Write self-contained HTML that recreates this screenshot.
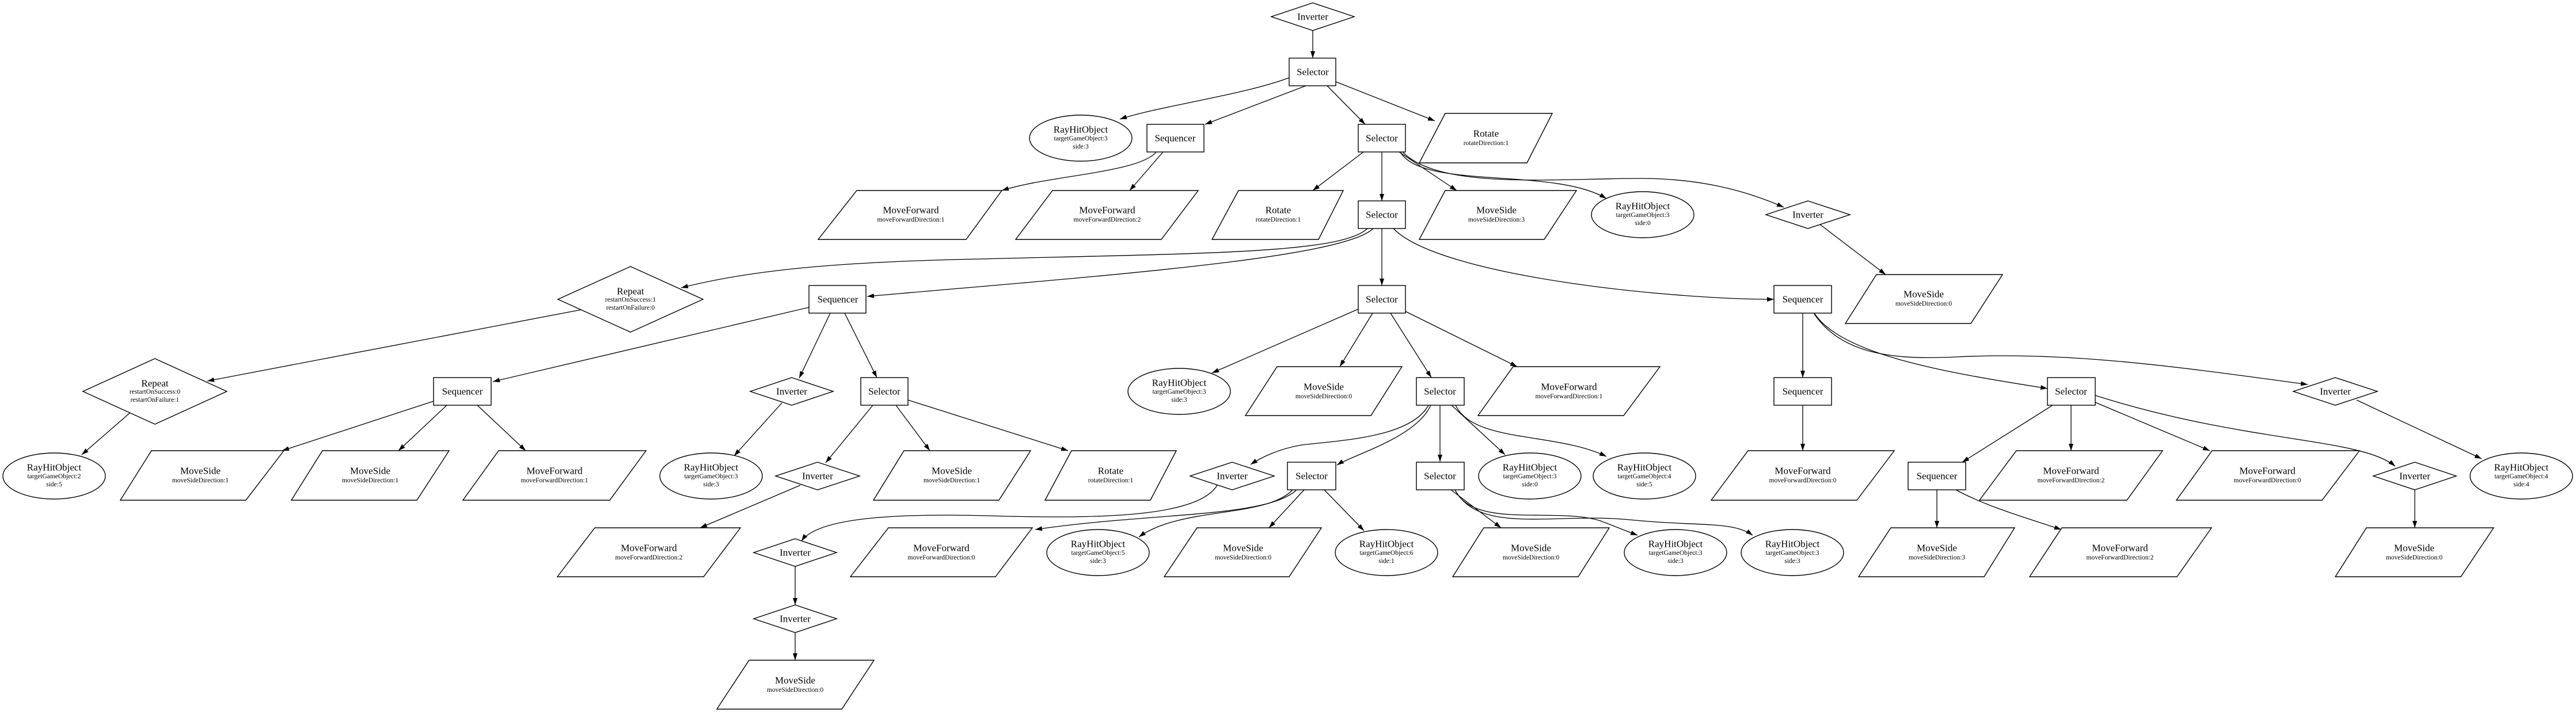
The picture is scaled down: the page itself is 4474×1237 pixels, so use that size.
<!DOCTYPE html>
<html><head><meta charset="utf-8"><style>
html,body{margin:0;padding:0;background:#fff;}
svg{display:block}
text{font-family:"Liberation Serif","DejaVu Serif",serif;fill:#000;text-anchor:middle;dominant-baseline:central}
.m{font-size:17px}
.s{font-size:11.5px}
.n{fill:#fff;stroke:#000;stroke-width:1.4}
.e{fill:none;stroke:#000;stroke-width:1.3}
</style></head><body>
<svg width="4474" height="1237" viewBox="0 0 4474 1237" xmlns="http://www.w3.org/2000/svg">
<defs><marker id="a" viewBox="0 0 12 8" refX="12" refY="4" markerWidth="12" markerHeight="8" markerUnits="userSpaceOnUse" orient="auto"><path d="M0,0 L12,4 L0,8 z" fill="#000"/></marker></defs>
<rect width="4474" height="1237" fill="#fff"/>
<g class="e" marker-end="url(#a)">
<path d="M2280,53 L2280,101"/>
<path d="M2239,135 C2160,165 2010,185 1945,207"/>
<path d="M2268,149 L2093,216"/>
<path d="M2305,149 L2371,216"/>
<path d="M2320,142 L2492,210"/>
<path d="M2008,264 C1980,300 1820,305 1740,331"/>
<path d="M2020,264 L1962,331"/>
<path d="M2368,264 L2280,331"/>
<path d="M2400,264 L2400,349"/>
<path d="M2430,264 L2530,331"/>
<path d="M2432,264 C2470,330 2700,290 2790,345"/>
<path d="M2436,264 C2500,330 2700,310 2850,310 C2950,310 3030,330 3098,360"/>
<path d="M3161,390 L3275,477"/>
<path d="M2375,397 C2330,440 2100,440 1700,450 C1450,455 1300,470 1183,500"/>
<path d="M2385,397 C2330,450 1900,480 1506,515"/>
<path d="M2400,397 L2400,496"/>
<path d="M2420,397 C2500,480 2900,520 3081,520"/>
<path d="M1010,538 L360,662"/>
<path d="M1405,534 L856,663"/>
<path d="M1442,544 L1388,657"/>
<path d="M1467,544 L1523,656"/>
<path d="M226,717 L142,790"/>
<path d="M753,697 L490,783"/>
<path d="M776,704 L692,783"/>
<path d="M829,704 L913,783"/>
<path d="M1358,700 L1275,792"/>
<path d="M1516,704 L1434,804"/>
<path d="M1556,704 L1615,783"/>
<path d="M1577,695 L1855,783"/>
<path d="M1390,843 L1216,917"/>
<path d="M2359,537 L2105,648"/>
<path d="M2384,544 L2327,637"/>
<path d="M2415,544 L2486,656"/>
<path d="M2441,541 L2635,637"/>
<path d="M2481,704 C2450,760 2330,765 2261,773 C2220,780 2190,795 2172,807"/>
<path d="M2485,704 C2460,760 2350,790 2322,808"/>
<path d="M2501,704 L2501,802"/>
<path d="M2521,704 L2614,790"/>
<path d="M2528,704 C2560,770 2700,750 2790,793"/>
<path d="M2114,843 C2080,900 1900,900 1750,897 C1550,890 1420,900 1392,940"/>
<path d="M2252,851 C2200,900 2000,890 1798,920"/>
<path d="M2245,851 C2200,900 2050,880 1978,933"/>
<path d="M2265,851 L2204,917"/>
<path d="M2300,851 L2369,922"/>
<path d="M2520,851 L2607,917"/>
<path d="M2527,851 C2560,920 2700,880 2780,905 L2844,930"/>
<path d="M2527,851 C2570,930 2700,890 2830,903 C2950,915 3010,905 3044,930"/>
<path d="M1381,984 L1381,1051"/>
<path d="M1381,1099 L1381,1147"/>
<path d="M3131,544 L3131,656"/>
<path d="M3151,544 C3200,620 3400,650 3556,675"/>
<path d="M3150,544 C3200,620 3300,625 3400,620 C3600,610 3800,640 4008,668"/>
<path d="M3131,704 L3131,783"/>
<path d="M3565,704 L3408,803"/>
<path d="M3597,704 L3597,783"/>
<path d="M3639,699 L3838,783"/>
<path d="M3639,687 C3900,770 4100,760 4160,810"/>
<path d="M4093,695 L4310,797"/>
<path d="M3364,851 L3364,917"/>
<path d="M3397,851 C3450,880 3520,900 3580,920"/>
<path d="M4194,851 L4194,917"/>
</g>
<g class="n">
<polygon points="2280,5 2352,29 2280,53 2208,29"/>
<polygon points="3140,349 3213,373 3140,397 3067,373"/>
<polygon points="1095,463 1221,520 1095,577 969,520"/>
<polygon points="269,623 394,680 269,737 144,680"/>
<polygon points="1375,656 1447,680 1375,704 1303,680"/>
<polygon points="4056,656 4129,680 4056,704 3983,680"/>
<polygon points="1420,803 1493,827 1420,851 1347,827"/>
<polygon points="2140,803 2213,827 2140,851 2067,827"/>
<polygon points="4194,803 4266,827 4194,851 4122,827"/>
<polygon points="1381,936 1453,960 1381,984 1309,960"/>
<polygon points="1381,1051 1453,1075 1381,1099 1309,1075"/>
<rect x="2239" y="101" width="81" height="48"/>
<rect x="1992" y="216" width="99" height="48"/>
<rect x="2359" y="216" width="82" height="48"/>
<rect x="2359" y="349" width="82" height="48"/>
<rect x="1405" y="496" width="99" height="48"/>
<rect x="2359" y="496" width="82" height="48"/>
<rect x="3081" y="496" width="100" height="48"/>
<rect x="753" y="656" width="100" height="48"/>
<rect x="1495" y="656" width="82" height="48"/>
<rect x="2460" y="656" width="83" height="48"/>
<rect x="3081" y="656" width="100" height="48"/>
<rect x="3556" y="656" width="83" height="48"/>
<rect x="2236" y="803" width="84" height="48"/>
<rect x="2460" y="803" width="83" height="48"/>
<rect x="3314" y="803" width="100" height="48"/>
<ellipse cx="1877" cy="240" rx="89" ry="40"/>
<ellipse cx="2853" cy="373" rx="89" ry="40"/>
<ellipse cx="2048" cy="680" rx="89" ry="40"/>
<ellipse cx="94" cy="827" rx="89" ry="40"/>
<ellipse cx="1235" cy="827" rx="89" ry="40"/>
<ellipse cx="2657" cy="827" rx="89" ry="40"/>
<ellipse cx="2856" cy="827" rx="89" ry="40"/>
<ellipse cx="4379" cy="827" rx="89" ry="40"/>
<ellipse cx="1907" cy="960" rx="89" ry="40"/>
<ellipse cx="2408" cy="960" rx="89" ry="40"/>
<ellipse cx="2910" cy="960" rx="89" ry="40"/>
<ellipse cx="3113" cy="960" rx="89" ry="40"/>
<polygon points="2510,197 2696,197 2652,283 2465,283"/>
<polygon points="1488,331 1740,331 1678,416 1421,416"/>
<polygon points="1828,331 2081,331 2017,416 1764,416"/>
<polygon points="2151,331 2333,331 2290,416 2105,416"/>
<polygon points="2510,331 2738,331 2682,416 2465,416"/>
<polygon points="3259,477 3478,477 3423,562 3205,562"/>
<polygon points="2218,637 2435,637 2381,722 2163,722"/>
<polygon points="2628,637 2883,637 2820,722 2567,722"/>
<polygon points="263,783 493,783 427,869 209,869"/>
<polygon points="560,783 780,783 724,869 506,869"/>
<polygon points="866,783 1122,783 1059,869 804,869"/>
<polygon points="1570,783 1790,783 1735,869 1517,869"/>
<polygon points="1861,783 2043,783 1998,869 1815,869"/>
<polygon points="3036,783 3290,783 3225,869 2972,869"/>
<polygon points="3502,783 3756,783 3694,869 3438,869"/>
<polygon points="3842,783 4098,783 4033,869 3780,869"/>
<polygon points="1033,917 1286,917 1222,1002 968,1002"/>
<polygon points="1543,917 1793,917 1729,1002 1477,1002"/>
<polygon points="2079,917 2295,917 2239,1002 2022,1002"/>
<polygon points="2577,917 2795,917 2741,1002 2523,1002"/>
<polygon points="3284,917 3499,917 3446,1002 3228,1002"/>
<polygon points="3581,917 3841,917 3781,1002 3525,1002"/>
<polygon points="4110,917 4331,917 4274,1002 4056,1002"/>
<polygon points="1301,1147 1518,1147 1462,1232 1245,1232"/>
</g>
<g class="m">
<text x="2280" y="29">Inverter</text>
<text x="3140" y="373">Inverter</text>
<text x="1375" y="680">Inverter</text>
<text x="4056" y="680">Inverter</text>
<text x="1420" y="827">Inverter</text>
<text x="2140" y="827">Inverter</text>
<text x="4194" y="827">Inverter</text>
<text x="1381" y="960">Inverter</text>
<text x="1381" y="1075">Inverter</text>
<text x="1095" y="506">Repeat</text>
<text x="269" y="666">Repeat</text>
<text x="2280" y="125">Selector</text>
<text x="2041" y="240">Sequencer</text>
<text x="2400" y="240">Selector</text>
<text x="2400" y="373">Selector</text>
<text x="1455" y="520">Sequencer</text>
<text x="2400" y="520">Selector</text>
<text x="3131" y="520">Sequencer</text>
<text x="803" y="680">Sequencer</text>
<text x="1536" y="680">Selector</text>
<text x="2501" y="680">Selector</text>
<text x="3131" y="680">Sequencer</text>
<text x="3597" y="680">Selector</text>
<text x="2278" y="827">Selector</text>
<text x="2501" y="827">Selector</text>
<text x="3364" y="827">Sequencer</text>
<text x="1877" y="225">RayHitObject</text>
<text x="2853" y="358">RayHitObject</text>
<text x="2048" y="665">RayHitObject</text>
<text x="94" y="812">RayHitObject</text>
<text x="1235" y="812">RayHitObject</text>
<text x="2657" y="812">RayHitObject</text>
<text x="2856" y="812">RayHitObject</text>
<text x="4379" y="812">RayHitObject</text>
<text x="1907" y="945">RayHitObject</text>
<text x="2408" y="945">RayHitObject</text>
<text x="2910" y="945">RayHitObject</text>
<text x="3113" y="945">RayHitObject</text>
<text x="2581" y="232">Rotate</text>
<text x="1582" y="365">MoveForward</text>
<text x="1923" y="365">MoveForward</text>
<text x="2220" y="365">Rotate</text>
<text x="2599" y="365">MoveSide</text>
<text x="3341" y="511">MoveSide</text>
<text x="2299" y="672">MoveSide</text>
<text x="2725" y="672">MoveForward</text>
<text x="348" y="818">MoveSide</text>
<text x="643" y="818">MoveSide</text>
<text x="963" y="818">MoveForward</text>
<text x="1653" y="818">MoveSide</text>
<text x="1929" y="818">Rotate</text>
<text x="3131" y="818">MoveForward</text>
<text x="3597" y="818">MoveForward</text>
<text x="3938" y="818">MoveForward</text>
<text x="1127" y="952">MoveForward</text>
<text x="1635" y="952">MoveForward</text>
<text x="2159" y="952">MoveSide</text>
<text x="2659" y="952">MoveSide</text>
<text x="3364" y="952">MoveSide</text>
<text x="3682" y="952">MoveForward</text>
<text x="4193" y="952">MoveSide</text>
<text x="1381" y="1182">MoveSide</text>
</g>
<g class="s">
<text x="1095" y="521">restartOnSuccess:1</text>
<text x="1095" y="535">restartOnFailure:0</text>
<text x="269" y="681">restartOnSuccess:0</text>
<text x="269" y="695">restartOnFailure:1</text>
<text x="1877" y="241">targetGameObject:3</text><text x="1877" y="255">side:3</text>
<text x="2853" y="374">targetGameObject:3</text><text x="2853" y="388">side:0</text>
<text x="2048" y="681">targetGameObject:3</text><text x="2048" y="695">side:3</text>
<text x="94" y="828">targetGameObject:2</text><text x="94" y="842">side:5</text>
<text x="1235" y="828">targetGameObject:3</text><text x="1235" y="842">side:3</text>
<text x="2657" y="828">targetGameObject:3</text><text x="2657" y="842">side:0</text>
<text x="2856" y="828">targetGameObject:4</text><text x="2856" y="842">side:5</text>
<text x="4379" y="828">targetGameObject:4</text><text x="4379" y="842">side:4</text>
<text x="1907" y="961">targetGameObject:5</text><text x="1907" y="975">side:3</text>
<text x="2408" y="961">targetGameObject:6</text><text x="2408" y="975">side:1</text>
<text x="2910" y="961">targetGameObject:3</text><text x="2910" y="975">side:3</text>
<text x="3113" y="961">targetGameObject:3</text><text x="3113" y="975">side:3</text>
<text x="2581" y="249">rotateDirection:1</text>
<text x="1582" y="382">moveForwardDirection:1</text>
<text x="1923" y="382">moveForwardDirection:2</text>
<text x="2220" y="382">rotateDirection:1</text>
<text x="2599" y="382">moveSideDirection:3</text>
<text x="3341" y="528">moveSideDirection:0</text>
<text x="2299" y="689">moveSideDirection:0</text>
<text x="2725" y="689">moveForwardDirection:1</text>
<text x="348" y="835">moveSideDirection:1</text>
<text x="643" y="835">moveSideDirection:1</text>
<text x="963" y="835">moveForwardDirection:1</text>
<text x="1653" y="835">moveSideDirection:1</text>
<text x="1929" y="835">rotateDirection:1</text>
<text x="3131" y="835">moveForwardDirection:0</text>
<text x="3597" y="835">moveForwardDirection:2</text>
<text x="3938" y="835">moveForwardDirection:0</text>
<text x="1127" y="969">moveForwardDirection:2</text>
<text x="1635" y="969">moveForwardDirection:0</text>
<text x="2159" y="969">moveSideDirection:0</text>
<text x="2659" y="969">moveSideDirection:0</text>
<text x="3364" y="969">moveSideDirection:3</text>
<text x="3682" y="969">moveForwardDirection:2</text>
<text x="4193" y="969">moveSideDirection:0</text>
<text x="1381" y="1199">moveSideDirection:0</text>
</g>
</svg>
</body></html>
